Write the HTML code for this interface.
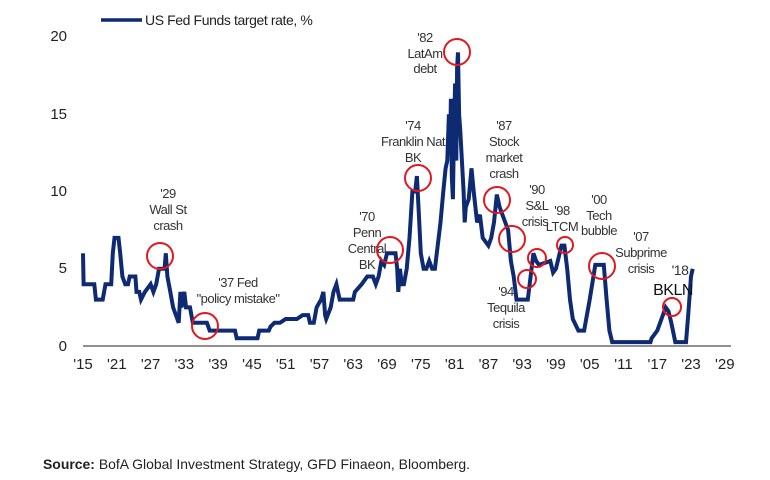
<!DOCTYPE html>
<html><head><meta charset="utf-8"><style>
html,body{margin:0;padding:0;background:#fff;}
svg{display:block;font-family:"Liberation Sans",Arial,sans-serif;}
.t{font-size:13px;fill:#333;text-anchor:middle;letter-spacing:-0.5px;}
.ax{font-size:15px;fill:#222;}
</style></head><body>
<svg id="s" width="770" height="480" viewBox="0 0 770 480">
<line x1="101" y1="20" x2="142" y2="20" stroke="#0d2a73" stroke-width="3.5"/>
<text x="145" y="25" style="font-size:14px;fill:#222;letter-spacing:-0.4px">US Fed Funds target rate, %</text>
<g class="ax" text-anchor="end">
<text x="67" y="41">20</text><text x="67" y="119">15</text><text x="67" y="196">10</text><text x="67" y="273">5</text><text x="67" y="351">0</text>
</g>
<line x1="83" y1="346" x2="731" y2="346" stroke="#222" stroke-width="1"/>
<g class="ax" text-anchor="middle" id="xl"></g>
<path id="p" fill="none" stroke="#0d2a73" stroke-width="4" stroke-linejoin="miter"/>
<g fill="none" stroke="#e0191e" stroke-width="2">
<circle cx="160" cy="256" r="13"/><circle cx="205" cy="326" r="13"/><circle cx="390" cy="250" r="13"/>
<circle cx="418" cy="178" r="13"/><circle cx="457" cy="52" r="13"/><circle cx="497" cy="200" r="13"/>
<circle cx="512" cy="239" r="13"/><circle cx="527" cy="279" r="9"/><circle cx="537" cy="258" r="9"/>
<circle cx="565" cy="245" r="8"/><circle cx="602" cy="266" r="13"/><circle cx="672" cy="307" r="9"/>
</g>
<g class="t">
<text x="168" y="198">'29</text><text x="168" y="214">Wall St</text><text x="168" y="230">crash</text>
<text x="238" y="287">'37 Fed</text><text x="238" y="303">"policy mistake"</text>
<text x="367" y="221">'70</text><text x="367" y="237">Penn</text><text x="367" y="253">Central</text><text x="367" y="269">BK</text>
<text x="413" y="130">'74</text><text x="413" y="146">Franklin Nat</text><text x="413" y="162">BK</text>
<text x="425" y="42">'82</text><text x="425" y="58">LatAm</text><text x="425" y="73">debt</text>
<text x="504" y="130">'87</text><text x="504" y="146">Stock</text><text x="504" y="162">market</text><text x="504" y="178">crash</text>
<text x="537" y="194">'90</text><text x="537" y="210">S&amp;L</text><text x="535" y="226">crisis</text>
<text x="562" y="215">'98</text><text x="562" y="231">LTCM</text>
<text x="599" y="204">'00</text><text x="599" y="220">Tech</text><text x="599" y="235">bubble</text>
<text x="641" y="241">'07</text><text x="641" y="257">Subprime</text><text x="641" y="273">crisis</text>
<text x="680" y="275" style="font-size:14px">'18</text>
<text x="673" y="295" style="font-size:16px;fill:#111">BKLN</text>
<text x="506" y="296">'94</text><text x="506" y="312">Tequila</text><text x="506" y="328">crisis</text>
</g>
<text x="43" y="469" style="font-size:14px;fill:#222" textLength="427" lengthAdjust="spacingAndGlyphs"><tspan font-weight="bold">Source:</tspan> BofA Global Investment Strategy, GFD Finaeon, Bloomberg.</text>
</svg>
<script>
var d=[1915,6,1915.1,4,1917,4,1917.3,3,1918.5,3,1919,4,1920,4,1920.3,6,1920.6,7,1921.3,7,1921.6,6,1922,4.5,1922.5,4,1923,4,1923.3,4.5,1924.3,4.5,1924.5,3.5,1925,3.5,1925.3,3,1926,3.5,1927,4,1927.5,3.5,1928,4,1928.5,5,1929.5,5,1929.7,6,1930,4.5,1930.5,3.5,1931,2.5,1931.5,2,1932,1.5,1932.3,3.5,1932.5,2.5,1933,3.5,1933.3,2.5,1934,2.5,1934.5,1.5,1937,1.5,1937.5,1,1942,1,1942.3,0.5,1946,0.5,1946.3,1,1948,1,1948.3,1.25,1949,1.5,1950,1.5,1951,1.75,1953,1.75,1954,2,1955,2,1955.3,1.5,1956,1.5,1956.5,2.5,1957.3,3,1957.7,3.5,1958,2,1958.2,1.75,1959,2.5,1959.5,3.5,1960,4,1960.3,3.5,1960.6,3,1963,3,1963.3,3.5,1964.5,4,1965.5,4.5,1966.5,4.5,1967,4,1967.5,4.5,1968,5.5,1968.5,5.25,1969,6,1970.5,6,1970.8,5,1971,3.5,1971.3,5,1971.6,4,1972,4,1972.5,5,1973,7,1973.5,10,1974,10,1974.3,11,1974.6,9,1975,6,1975.5,5,1976,5,1976.5,5.5,1977,5,1977.5,5,1978,6.5,1978.5,8,1979,10,1979.4,11.5,1979.7,12,1980,15,1980.2,13,1980.35,16,1980.5,11,1980.7,9.5,1980.9,14,1981.1,17,1981.3,12,1981.45,18,1981.6,19,1981.8,15,1982,14,1982.3,12,1982.6,10,1982.8,8,1983,9,1983.5,9.5,1984,11.5,1984.4,10,1984.7,9,1985,8,1985.5,8.5,1986,7,1987,6.5,1987.5,7,1988,8,1988.5,9.8,1989,9,1989.5,8.5,1990,8,1990.5,7.5,1991,5.5,1991.5,4.5,1992,3,1993,3,1994,3,1994.5,4.5,1995,6,1995.5,5.5,1996,5.25,1998,5.5,1998.5,4.75,1999,5,2000,6.5,2000.5,6.5,2001,5,2001.5,3,2002,1.75,2003,1,2004,1,2005,3,2006,5.25,2007.5,5.25,2008,3,2008.5,1,2009,0.25,2015.8,0.25,2016,0.5,2017,1,2018,2,2018.5,2.5,2019,2.25,2019.5,1.5,2020.2,0.25,2022.1,0.25,2022.5,2,2023,4.5,2023.3,5];
function X(y){return 83+5.63*(y-1915);}function Y(v){return 346-15.45*v;}
var s="";for(var i=0;i<d.length;i+=2){s+=(i?"L":"M")+X(d[i]).toFixed(1)+" "+Y(d[i+1]).toFixed(1);}
document.getElementById("p").setAttribute("d",s);
var g=document.getElementById("xl"),h="";
for(var y=1915;y<=2029;y+=6){h+='<text x="'+X(y).toFixed(1)+'" y="369">\''+String(y).slice(2)+'</text>';}
g.innerHTML=h;
</script>
</body></html>
